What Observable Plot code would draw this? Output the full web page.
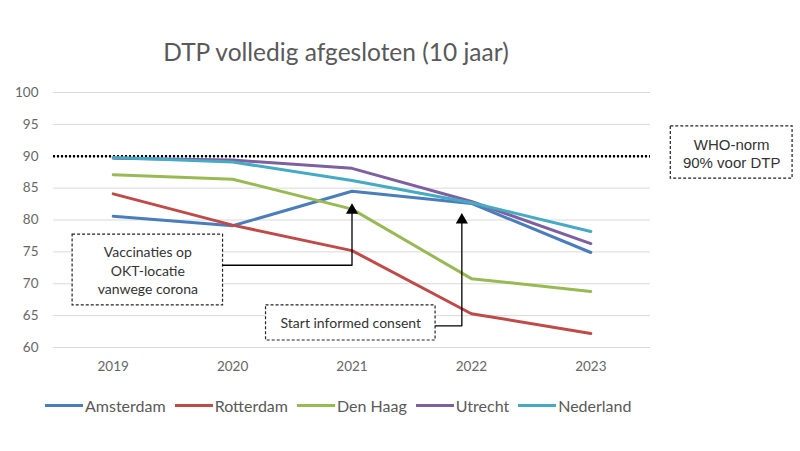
<!DOCTYPE html>
<html>
<head>
<meta charset="utf-8">
<script src="https://cdn.jsdelivr.net/npm/d3@7"></script>
<script src="https://cdn.jsdelivr.net/npm/@observablehq/plot@0.6"></script>
<style>
  html, body { margin: 0; padding: 0; background: #fff; }
  body { width: 800px; height: 451px; overflow: hidden; font-family: Lato, "Open Sans", sans-serif; }
  #title { height: 70px; box-sizing: border-box; padding-top: 40px; width: 672px; text-align: center;
           font-size: 24.5px; line-height: 24px; color: #595959; }
  #legend { display: flex; align-items: center; padding-left: 45px; height: 34px; margin-top: 1px;
            font-size: 16px; color: #595959; }
  .item { display: flex; align-items: center; margin-right: 9px; }
  .sw { width: 38px; height: 3px; margin-right: 2px; }
</style>
</head>
<body>
<div id="title">DTP volledig afgesloten (10 jaar)</div>
<div id="chart"></div>
<div id="legend"></div>
<script>
const years = [2019, 2020, 2021, 2022, 2023];
const series = ["Amsterdam", "Rotterdam", "Den Haag", "Utrecht", "Nederland"];
const colors = ["#4A7EBB", "#BE4B48", "#98B954", "#7D60A0", "#46AAC5"];
const amsterdam = [80.6, 79.1, 84.5, 82.6, 74.9];
const rotterdam = [84.1, 79.2, 75.2, 65.3, 62.2];
const denHaag   = [87.1, 86.4, 81.7, 70.8, 68.8];
const utrecht   = [89.7, 89.4, 88.1, 82.9, 76.3];
const nederland = [89.8, 89.1, 86.2, 82.7, 78.2];
const yTicks = [60, 65, 70, 75, 80, 85, 90, 95, 100];
const whoNorm = 90;

// annotations (data coordinates)
const boxes = [
  {x1: 2018.66, x2: 2019.92, y1: 77.7, y2: 66.6},
  {x1: 2020.28, x2: 2021.70, y1: 66.6, y2: 61.1},
  {x1: 2023.67, x2: 2024.69, y1: 94.7, y2: 86.5}
];
const notes = [
  {x: 2019.29, y: 72.2, text: "Vaccinaties op\nOKT-locatie\nvanwege corona"},
  {x: 2020.99, y: 63.9, text: "Start informed consent"}
];
const whoNote = [{x: 2024.18, y: 90.5, text: "WHO-norm\n90% voor DTP"}];
const arrowPaths = [
  {id: 1, x: 2019.92, y: 72.9}, {id: 1, x: 2021.0, y: 72.9}, {id: 1, x: 2021.0, y: 81.3},
  {id: 2, x: 2021.70, y: 63.4}, {id: 2, x: 2021.92, y: 63.4}, {id: 2, x: 2021.92, y: 79.8}
];
const arrowTips = [{x: 2021.0, y: 82.3}, {x: 2021.92, y: 80.8}];

const values = [amsterdam, rotterdam, denHaag, utrecht, nederland];
const data = series.flatMap((s, i) => years.map((yr, j) => ({series: s, year: yr, value: values[i][j]})));

const chart = Plot.plot({
  width: 800,
  height: 317,
  marginTop: 22,
  marginBottom: 40,
  marginLeft: 53,
  marginRight: 150,
  style: {fontFamily: "Lato, 'Open Sans', sans-serif", color: "#666", background: "white"},
  x: {domain: [2018.5, 2023.5]},
  y: {domain: [60, 100]},
  color: {domain: series, range: colors},
  marks: [
    Plot.gridY(yTicks, {stroke: "#d9d9d9", strokeOpacity: 1, strokeWidth: 1}),
    Plot.axisY(yTicks, {tickSize: 0, tickPadding: 15, fontSize: 13.5, label: null}),
    Plot.axisX(years, {tickSize: 0, tickPadding: 14, fontSize: 13.5, label: null, tickFormat: d => String(d)}),
    Plot.ruleY([whoNorm], {stroke: "black", strokeWidth: 2.5, strokeDasharray: "2,2"}),
    Plot.line(data, {x: "year", y: "value", stroke: "series", strokeWidth: 3}),
    Plot.rect(boxes, {x1: "x1", x2: "x2", y1: "y1", y2: "y2", fill: "white", stroke: "#222", strokeWidth: 1.2, strokeDasharray: "3,2"}),
    Plot.line(arrowPaths, {x: "x", y: "y", z: "id", stroke: "black", strokeWidth: 1.3}),
    Plot.dot(arrowTips, {x: "x", y: "y", symbol: "triangle", fill: "black", r: 4.5, dy: 5}),
    Plot.text(notes, {x: "x", y: "y", text: "text", fontSize: 14, fill: "#333", lineHeight: 1.3}),
    Plot.text(whoNote, {x: "x", y: "y", text: "text", fontSize: 15, fill: "#333", lineHeight: 1.2, fontFamily: "'Liberation Sans', Arial, sans-serif"})
  ]
});
document.getElementById("chart").appendChild(chart);

const legend = document.getElementById("legend");
series.forEach((s, i) => {
  const item = document.createElement("div");
  item.className = "item";
  const sw = document.createElement("span");
  sw.className = "sw";
  sw.style.background = colors[i];
  const t = document.createElement("span");
  t.textContent = s;
  item.appendChild(sw);
  item.appendChild(t);
  legend.appendChild(item);
});
</script>
</body>
</html>
